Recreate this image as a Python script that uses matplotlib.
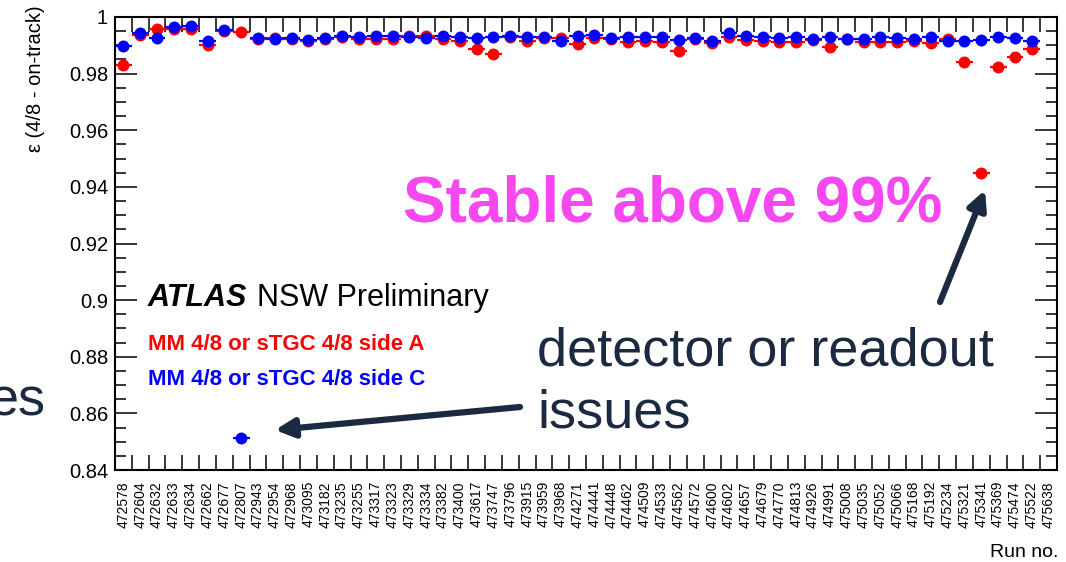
import numpy as np
import matplotlib
matplotlib.use("Agg")
import matplotlib.pyplot as plt
from matplotlib.ticker import MultipleLocator, FixedLocator, FuncFormatter

plt.rcParams['font.family'] = ['Liberation Sans', 'DejaVu Sans']

runs = ["472578", "472604", "472632", "472633", "472634", "472662", "472677", "472807",
        "472943", "472954", "472968", "473095", "473182", "473235", "473255", "473317",
        "473323", "473329", "473334", "473382", "473400", "473617", "473747", "473796",
        "473915", "473959", "473968", "474271", "474441", "474448", "474462", "474509",
        "474533", "474562", "474572", "474600", "474602", "474657", "474679", "474770",
        "474813", "474926", "474991", "475008", "475035", "475052", "475066", "475168",
        "475192", "475234", "475321", "475341", "475369", "475474", "475522", "475638"]

eff_side_A = [0.9832, 0.9937, 0.9959, 0.9957, 0.9957, 0.9900, 0.9950, 0.9947,
              0.9921, 0.9926, 0.9923, 0.9914, 0.9923, 0.9928, 0.9923, 0.9923,
              0.9921, 0.9932, 0.9932, 0.9923, 0.9916, 0.9886, 0.9870, 0.9928,
              0.9914, 0.9926, 0.9926, 0.9906, 0.9926, 0.9921, 0.9912, 0.9916,
              0.9912, 0.9879, 0.9921, 0.9909, 0.9930, 0.9917, 0.9916, 0.9913,
              0.9913, 0.9917, 0.9894, 0.9922, 0.9913, 0.9913, 0.9913, 0.9916,
              0.9909, 0.9921, 0.9842, 0.9449, 0.9824, 0.9860, 0.9886, np.nan]

eff_side_C = [0.9899, 0.9945, 0.9926, 0.9965, 0.9967, 0.9914, 0.9953, 0.8513,
              0.9926, 0.9921, 0.9927, 0.9918, 0.9926, 0.9933, 0.9930, 0.9933,
              0.9932, 0.9930, 0.9926, 0.9933, 0.9930, 0.9926, 0.9930, 0.9933,
              0.9930, 0.9930, 0.9915, 0.9932, 0.9935, 0.9926, 0.9930, 0.9930,
              0.9930, 0.9920, 0.9926, 0.9914, 0.9945, 0.9933, 0.9930, 0.9925,
              0.9928, 0.9921, 0.9928, 0.9921, 0.9921, 0.9928, 0.9925, 0.9921,
              0.9930, 0.9916, 0.9916, 0.9919, 0.9930, 0.9925, 0.9915, np.nan]

err_y = 0.0006

W, H = 1066, 562
fig = plt.figure(figsize=(W / 100, H / 100), dpi=100)
ax = fig.add_axes([115 / W, (H - 470) / H, (1057 - 115) / W, (470 - 17) / H])

x = np.arange(len(runs))
for vals, col in [(eff_side_A, '#ff0000'), (eff_side_C, '#0000ff')]:
    ax.errorbar(x, vals, xerr=0.5, yerr=err_y, fmt='o', color=col, ecolor=col,
                markersize=8.6, elinewidth=1.6, capsize=0, markeredgewidth=0)

ax.set_xlim(-0.5, len(runs) - 0.5)
ax.set_ylim(0.84, 1.0)

ax.xaxis.set_major_locator(FixedLocator(x))
ax.set_xticklabels(runs, rotation=90, fontsize=10)
ax.xaxis.set_minor_locator(FixedLocator(np.arange(len(runs) + 1) - 0.5))
ax.tick_params(axis='x', which='major', length=0, pad=8)
ax.tick_params(axis='x', which='minor', length=10.5, width=1.1, direction='in',
               top=True, bottom=True)

ax.yaxis.set_major_locator(MultipleLocator(0.02))
ax.yaxis.set_minor_locator(MultipleLocator(0.005))
ax.yaxis.set_major_formatter(FuncFormatter(lambda v, p: f"{v:g}"))
ax.tick_params(axis='y', which='major', length=16, width=1.1, direction='in',
               left=True, right=True, labelsize=14.5, pad=5)
ax.tick_params(axis='y', which='minor', length=8, width=1.1, direction='in',
               left=True, right=True)
for s in ax.spines.values():
    s.set_linewidth(1.5)

# axis titles
fig.text(36 / W, 557 / H, "ε (4/8 - on-track)", rotation=90, ha='center', va='top',
         fontsize=14.5)
fig.text(1058 / W, 5 / H, "Run no.", ha='right', va='baseline', fontsize=14)

# ATLAS label and legend text
fig.text(148 / W, (H - 306) / H, "ATLAS", fontsize=22, fontweight='bold',
         fontstyle='italic', va='baseline')
fig.text(257 / W, (H - 306) / H, "NSW Preliminary", fontsize=22, va='baseline')
fig.text(148 / W, (H - 350) / H, "MM 4/8 or sTGC 4/8 side A", fontsize=16,
         fontweight='bold', color='#ff0000', va='baseline')
fig.text(148 / W, (H - 385) / H, "MM 4/8 or sTGC 4/8 side C", fontsize=16,
         fontweight='bold', color='#0000ff', va='baseline')

# slide annotations
navy = '#1b2a41'
fig.text(403 / W, (H - 221) / H, "Stable above 99%", fontsize=46, fontweight='bold',
         color='#f548f0', va='baseline')
fig.text(537 / W, (H - 366) / H, "detector or readout", fontsize=39, color=navy,
         va='baseline')
fig.text(537 / W, (H - 428) / H, "issues", fontsize=39, color=navy, va='baseline')
fig.text(46 / W, (H - 416) / H, "es", fontsize=39, color=navy, va='baseline',
         ha='right')

arrow_kw = dict(arrowstyle='-|>', color=navy, lw=4.5, mutation_scale=28,
                shrinkA=0, shrinkB=0)
fig.add_artist(matplotlib.patches.FancyArrowPatch(
    (520 / W, (H - 407) / H), (275 / W, (H - 430) / H),
    transform=fig.transFigure, **arrow_kw))
fig.add_artist(matplotlib.patches.FancyArrowPatch(
    (940 / W, (H - 302) / H), (985 / W, (H - 190) / H),
    transform=fig.transFigure, **arrow_kw))

fig.savefig("out.png", dpi=100)
